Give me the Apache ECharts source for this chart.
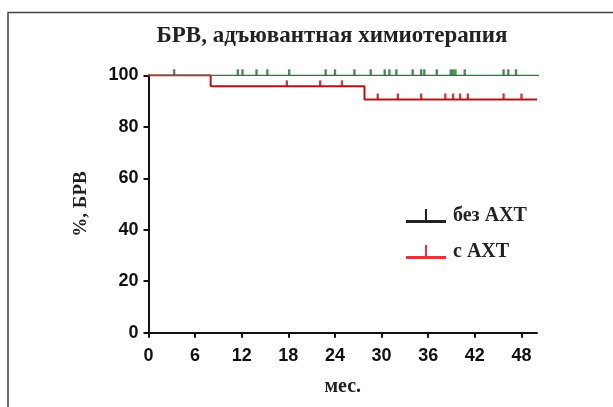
<!DOCTYPE html>
<html>
<head>
<meta charset="utf-8">
<script src="https://cdn.jsdelivr.net/npm/echarts@6/dist/echarts.min.js"></script>
<style>
  html, body {margin:0; padding:0; background:#fff;}
  #chart {width:613px; height:407px;}
</style>
</head>
<body>
<div id="chart"></div>
<script>
// кривые БРВ (ступенчатые)
var bezAxtCurve = [[0, 100], [50.3, 100]];
var sAxtCurve = [[0, 100], [8, 95.7], [27.8, 90.6], [50, 90.6]];

// цензурированные наблюдения (мес.)
var bezAxtCensor = [3.3, 11.5, 12.1, 13.9, 15.3, 18.1, 22.8, 24.0, 26.5, 28.6, 30.4, 31.0, 31.9,
                    34.0, 35.1, 35.5, 37.1, 38.9, 39.2, 39.5, 40.7, 45.7, 46.3, 47.3];
var sAxtCensorHigh = [17.8, 22.1, 24.9];
var sAxtCensorLow = [29.5, 32.1, 35.1, 38.2, 39.2, 40.1, 41.1, 45.7, 48.0];

var xTicks = [0, 6, 12, 18, 24, 30, 36, 42, 48];
var seriesNames = ['без АХТ', 'с АХТ'];

var serif = '"Liberation Serif", "DejaVu Serif", serif';
var sans = '"Liberation Sans", Arial, sans-serif';
var legendIcon = 'path://M0,11 L40,11 L40,14 L0,14 Z M19,0 L21,0 L21,11 L19,11 Z';

function censorPoints(xs, level) {
    return xs.map(function (x) { return [x, level]; });
}

var chart = echarts.init(document.getElementById('chart'));
chart.setOption({
    animation: false,
    title: {
        text: 'БРВ, адъювантная химиотерапия',
        left: 327, top: 20, textAlign: 'center',
        textStyle: {fontFamily: serif, fontWeight: 'bold', fontSize: 23, color: '#222'}
    },
    graphic: [{
        type: 'rect', silent: true,
        shape: {x: 8, y: 12.5, width: 640, height: 420},
        style: {fill: 'none', stroke: '#444', lineWidth: 1.5}
    }],
    legend: {
        orient: 'vertical', left: 401, top: 201,
        itemWidth: 40, itemHeight: 14, itemGap: 16,
        icon: legendIcon,
        textStyle: {fontFamily: serif, fontWeight: 'bold', fontSize: 20, color: '#222', padding: [0, 0, 0, 2]},
        data: [
            {name: seriesNames[0], itemStyle: {color: '#222'}},
            {name: seriesNames[1], itemStyle: {color: '#e8323c'}}
        ]
    },
    grid: {left: 148.5, right: 76, top: 75.3, bottom: 74.3},
    xAxis: {
        type: 'value', min: 0, max: 50,
        name: 'мес.', nameLocation: 'middle', nameGap: 44,
        nameTextStyle: {fontFamily: serif, fontWeight: 'bold', fontSize: 20, color: '#222'},
        axisLine: {lineStyle: {color: '#111', width: 2}},
        axisTick: {show: true, length: 5, lineStyle: {width: 2, color: '#111'}, customValues: xTicks},
        axisLabel: {customValues: xTicks, fontFamily: sans, fontWeight: 'bold', fontSize: 18, color: '#111', margin: 14},
        splitLine: {show: false}
    },
    yAxis: {
        type: 'value', min: 0, max: 100, interval: 20,
        name: '%, БРВ', nameLocation: 'middle', nameGap: 58,
        nameTextStyle: {fontFamily: serif, fontWeight: 'bold', fontSize: 19, color: '#222'},
        axisLine: {show: true, lineStyle: {color: '#111', width: 2}},
        axisTick: {show: true, length: 5, lineStyle: {width: 2, color: '#111'}},
        axisLabel: {fontFamily: sans, fontWeight: 'bold', fontSize: 18, color: '#111', margin: 10},
        splitLine: {show: false}
    },
    series: [
        {
            name: seriesNames[1], type: 'line', step: 'end', data: sAxtCurve,
            showSymbol: false, z: 2,
            lineStyle: {color: '#b5121b', width: 2},
            itemStyle: {color: '#b5121b'}
        },
        {
            name: seriesNames[0], type: 'line', data: bezAxtCurve,
            showSymbol: false, z: 3,
            lineStyle: {color: '#2a7a3a', width: 1.6},
            itemStyle: {color: '#2a7a3a'}
        },
        {
            name: 'censor-red', type: 'scatter', z: 2,
            data: censorPoints(sAxtCensorHigh, 95.7).concat(censorPoints(sAxtCensorLow, 90.6)),
            symbol: 'rect', symbolSize: [2.4, 6], symbolOffset: [0, -3],
            itemStyle: {color: '#b5121b'}
        },
        {
            name: 'censor-green', type: 'scatter', z: 3,
            data: censorPoints(bezAxtCensor, 100),
            symbol: 'rect', symbolSize: [2.4, 6], symbolOffset: [0, -3],
            itemStyle: {color: '#1f6e2e'}
        }
    ]
});
</script>
</body>
</html>
